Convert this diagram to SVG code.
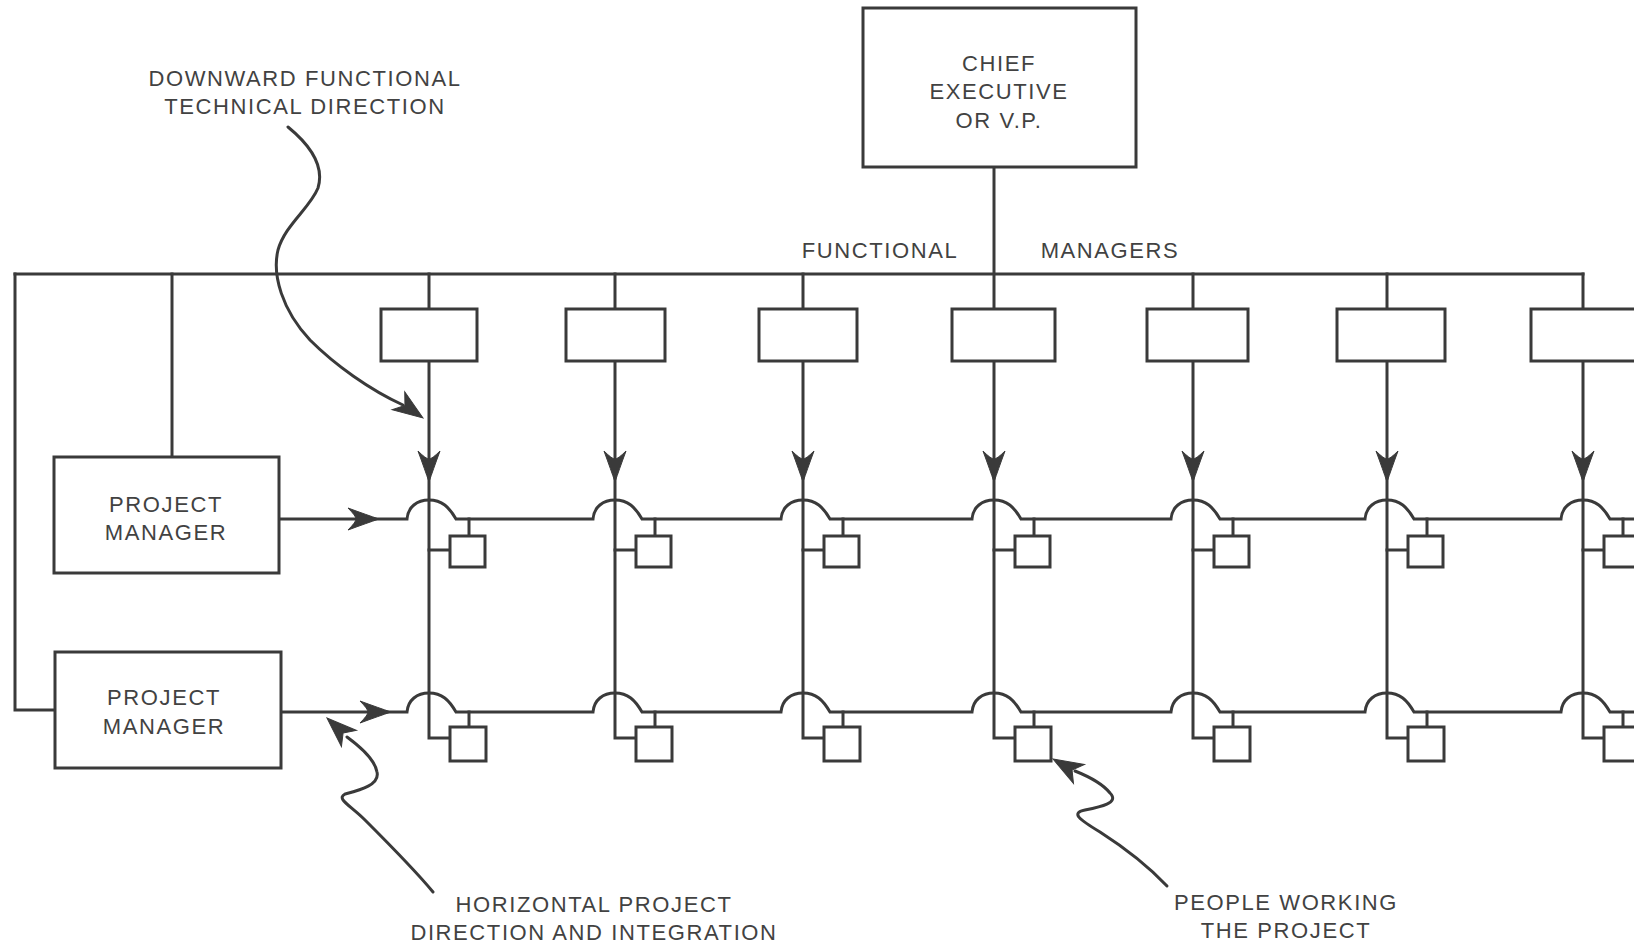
<svg xmlns="http://www.w3.org/2000/svg" xmlns:xlink="http://www.w3.org/1999/xlink" width="1634" height="946" viewBox="0 0 1634 946">
<defs>
<style>
.ln{fill:none;stroke:#3a3a3a;stroke-width:3;stroke-linejoin:miter;stroke-linecap:square}
.sq{fill:none;stroke:#3a3a3a;stroke-width:3;stroke-linecap:round;stroke-linejoin:round}
.box{fill:#fff;stroke:#3a3a3a;stroke-width:3}
.ah{fill:#3a3a3a;stroke:#3a3a3a;stroke-width:1}
text{font-family:"Liberation Sans",Arial,Helvetica,sans-serif;font-size:22px;fill:#424242;letter-spacing:1.6px;text-anchor:middle}
</style>
<path id="arr" d="M0,0 Q-12,-4 -31,-11 Q-23,-3 -23,0 Q-23,3 -31,11 Q-12,4 0,0 Z"/>
<path id="parr" d="M0,0 L-30,-11 L-22,0 L-30,11 Z"/>
</defs>
<rect width="1634" height="946" fill="#fff"/>

<g id="connectors">
  <path class="ln" d="M994,167 V309"/>
  <path class="ln" d="M15,274 H1583"/>
  <path class="ln" d="M15,274 V710 H54"/>
  <path class="ln" d="M172,274 V457"/>
  <path class="ln" d="M429,274 V309 M615,274 V309 M803,274 V309 M1193,274 V309 M1387,274 V309 M1583,274 V309"/>
  <path class="ln" d="M429,361 V738 H450"/>
  <path class="ln" d="M615,361 V738 H636"/>
  <path class="ln" d="M803,361 V738 H824"/>
  <path class="ln" d="M994,361 V738 H1015"/>
  <path class="ln" d="M1193,361 V738 H1214"/>
  <path class="ln" d="M1387,361 V738 H1408"/>
  <path class="ln" d="M1583,361 V738 H1604"/>
  <use xlink:href="#arr" class="ah" transform="translate(429,482) rotate(90)"/>
  <use xlink:href="#arr" class="ah" transform="translate(615,482) rotate(90)"/>
  <use xlink:href="#arr" class="ah" transform="translate(803,482) rotate(90)"/>
  <use xlink:href="#arr" class="ah" transform="translate(994,482) rotate(90)"/>
  <use xlink:href="#arr" class="ah" transform="translate(1193,482) rotate(90)"/>
  <use xlink:href="#arr" class="ah" transform="translate(1387,482) rotate(90)"/>
  <use xlink:href="#arr" class="ah" transform="translate(1583,482) rotate(90)"/>
  <path class="ln" d="M279,519 H407 C408,507 417,500 429,500 C442,500 449,507 456,519 H593 C594,507 603,500 615,500 C628,500 635,507 642,519 H781 C782,507 791,500 803,500 C816,500 823,507 830,519 H972 C973,507 982,500 994,500 C1007,500 1014,507 1021,519 H1171 C1172,507 1181,500 1193,500 C1206,500 1213,507 1220,519 H1365 C1366,507 1375,500 1387,500 C1400,500 1407,507 1414,519 H1561 C1562,507 1571,500 1583,500 C1596,500 1603,507 1610,519 H1634"/>
  <path class="ln" d="M281,712 H407 C408,700 417,693 429,693 C442,693 449,700 456,712 H593 C594,700 603,693 615,693 C628,693 635,700 642,712 H781 C782,700 791,693 803,693 C816,693 823,700 830,712 H972 C973,700 982,693 994,693 C1007,693 1014,700 1021,712 H1171 C1172,700 1181,693 1193,693 C1206,693 1213,700 1220,712 H1365 C1366,700 1375,693 1387,693 C1400,693 1407,700 1414,712 H1561 C1562,700 1571,693 1583,693 C1596,693 1603,700 1610,712 H1634"/>
  <use xlink:href="#arr" class="ah" transform="translate(379,519)"/>
  <use xlink:href="#arr" class="ah" transform="translate(391,712)"/>
  <path class="ln" d="M429,550 H450 M469,519 V536 M615,550 H636 M655,519 V536 M803,550 H824 M843,519 V536 M994,550 H1015 M1034,519 V536 M1193,550 H1214 M1233,519 V536 M1387,550 H1408 M1427,519 V536 M1583,550 H1604 M1623,519 V536"/>
  <path class="ln" d="M469,712 V727 M655,712 V727 M843,712 V727 M1034,712 V727 M1233,712 V727 M1427,712 V727 M1623,712 V727"/>
  <path class="sq" d="M288,127 C310,145 325,165 318,188 C310,208 285,225 278,250 C272,275 282,310 310,340 C335,365 370,390 403,405"/>
  <use xlink:href="#parr" class="ah" transform="translate(423,418) rotate(35)"/>
  <path class="sq" d="M433,892 C415,870 385,840 365,820 C350,805 336,799 345,794 C360,790 380,785 377,772 C375,760 362,748 347,737"/>
  <use xlink:href="#parr" class="ah" transform="translate(327,718) rotate(-137)"/>
  <path class="sq" d="M1167,886 C1150,868 1125,848 1100,832 C1080,820 1070,813 1085,810 C1100,807 1120,803 1110,793 C1102,783 1090,777 1075,771"/>
  <use xlink:href="#parr" class="ah" transform="translate(1053,759) rotate(-150)"/>
</g>

<g id="chief">
  <rect class="box" x="863" y="8" width="273" height="159"/>
  <text x="999" y="71">CHIEF</text>
  <text x="999" y="99">EXECUTIVE</text>
  <text x="999" y="128">OR V.P.</text>
</g>

<g id="functional-managers-label">
  <text x="880" y="258">FUNCTIONAL</text>
  <text x="1110" y="258">MANAGERS</text>
</g>

<g id="fm1"><rect class="box" x="381" y="309" width="96" height="52"/></g>
<g id="fm2"><rect class="box" x="566" y="309" width="99" height="52"/></g>
<g id="fm3"><rect class="box" x="759" y="309" width="98" height="52"/></g>
<g id="fm4"><rect class="box" x="952" y="309" width="103" height="52"/></g>
<g id="fm5"><rect class="box" x="1147" y="309" width="101" height="52"/></g>
<g id="fm6"><rect class="box" x="1337" y="309" width="108" height="52"/></g>
<g id="fm7"><rect class="box" x="1531" y="309" width="110" height="52"/></g>

<g id="pm1">
  <rect class="box" x="54" y="457" width="225" height="116"/>
  <text x="166" y="512">PROJECT</text>
  <text x="166" y="540">MANAGER</text>
</g>
<g id="pm2">
  <rect class="box" x="55" y="652" width="226" height="116"/>
  <text x="164" y="705">PROJECT</text>
  <text x="164" y="734">MANAGER</text>
</g>

<g id="people-row1">
  <rect class="box" x="450" y="536" width="35" height="31"/>
  <rect class="box" x="636" y="536" width="35" height="31"/>
  <rect class="box" x="824" y="536" width="35" height="31"/>
  <rect class="box" x="1015" y="536" width="35" height="31"/>
  <rect class="box" x="1214" y="536" width="35" height="31"/>
  <rect class="box" x="1408" y="536" width="35" height="31"/>
  <rect class="box" x="1604" y="536" width="35" height="31"/>
</g>
<g id="people-row2">
  <rect class="box" x="450" y="727" width="36" height="34"/>
  <rect class="box" x="636" y="727" width="36" height="34"/>
  <rect class="box" x="824" y="727" width="36" height="34"/>
  <rect class="box" x="1015" y="727" width="36" height="34"/>
  <rect class="box" x="1214" y="727" width="36" height="34"/>
  <rect class="box" x="1408" y="727" width="36" height="34"/>
  <rect class="box" x="1604" y="727" width="36" height="34"/>
</g>

<g id="label-downward">
  <text x="305" y="86">DOWNWARD FUNCTIONAL</text>
  <text x="305" y="114">TECHNICAL DIRECTION</text>
</g>
<g id="label-horizontal">
  <text x="594" y="912">HORIZONTAL PROJECT</text>
  <text x="594" y="940">DIRECTION AND INTEGRATION</text>
</g>
<g id="label-people">
  <text x="1286" y="910">PEOPLE WORKING</text>
  <text x="1286" y="938">THE PROJECT</text>
</g>
</svg>
